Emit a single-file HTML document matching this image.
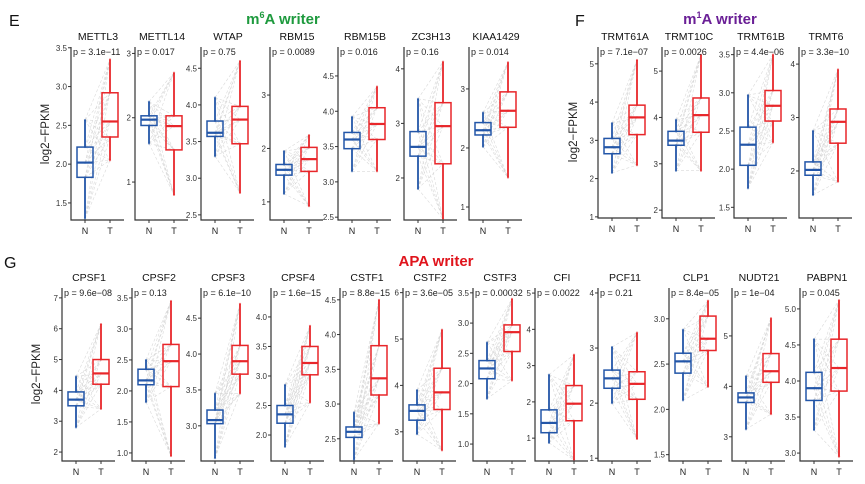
<!DOCTYPE html>
<html><head><meta charset="utf-8"><style>
html,body{margin:0;padding:0;background:#fff;}
svg{display:block;font-family:"Liberation Sans",Arial,sans-serif;}
</style></head><body>
<svg id="fig" width="865" height="484" viewBox="0 0 865 484">
<text x="9" y="26" font-size="16" fill="#111">E</text>
<text x="283" y="24" font-size="15" font-weight="bold" fill="#1e9a3e" text-anchor="middle">m<tspan font-size="9" dy="-6">6</tspan><tspan dy="6">A writer</tspan></text>
<text x="575" y="26" font-size="16" fill="#111">F</text>
<text x="720" y="24" font-size="15" font-weight="bold" fill="#6a1f96" text-anchor="middle">m<tspan font-size="9" dy="-6">1</tspan><tspan dy="6">A writer</tspan></text>
<text x="4" y="268" font-size="16" fill="#111">G</text>
<text x="436" y="266" font-size="15" font-weight="bold" fill="#e0141c" text-anchor="middle">APA writer</text>
<text transform="translate(49,134) rotate(-90)" font-size="11.5" fill="#222" text-anchor="middle">log2−FPKM</text>
<text transform="translate(577,132) rotate(-90)" font-size="11.5" fill="#222" text-anchor="middle">log2−FPKM</text>
<text transform="translate(40,374) rotate(-90)" font-size="11.5" fill="#222" text-anchor="middle">log2−FPKM</text>
</svg>
<script>
// Data per panel
const genes = ["METTL3","METTL14","WTAP","RBM15","RBM15B","ZC3H13","KIAA1429","TRMT61A","TRMT10C","TRMT61B","TRMT6",
 "CPSF1","CPSF2","CPSF3","CPSF4","CSTF1","CSTF2","CSTF3","CFI","PCF11","CLP1","NUDT21","PABPN1"];
const pvals = ["3.1e−11","0.017","0.75","0.0089","0.016","0.16","0.014","7.1e−07","0.0026","4.4e−06","3.3e−10",
 "9.6e−08","0.13","6.1e−10","1.6e−15","8.8e−15","3.6e−05","0.00032","0.0022","0.21","8.4e−05","1e−04","0.045"];
const yDomains = [[1.28,3.51],[0.41,3.1],[2.43,4.79],[0.66,3.9],[2.46,4.91],[1.23,4.4],[0.78,3.71],[0.97,5.44],[1.83,5.52],[1.36,3.6],[1.12,4.32],
 [1.71,7.32],[0.87,3.66],[2.51,4.92],[1.56,4.49],[2.18,4.67],[2.37,6.1],[0.72,3.58],[0.37,5.14],[0.95,4.09],[1.43,3.34],[2.52,5.95],[2.89,5.29]];
const tickLabels = [["1.5","2.0","2.5","3.0","3.5"],["1","2","3"],["2.5","3.0","3.5","4.0","4.5"],["1","2","3"],["2.5","3.0","3.5","4.0","4.5"],["2","3","4"],["1","2","3"],["1","2","3","4","5"],["2","3","4","5"],["1.5","2.0","2.5","3.0","3.5"],["2","3","4"],
 ["2","3","4","5","6","7"],["1.0","1.5","2.0","2.5","3.0","3.5"],["3.0","3.5","4.0","4.5"],["2.0","2.5","3.0","3.5","4.0"],["2.5","3.0","3.5","4.0","4.5"],["3","4","5","6"],["1.0","1.5","2.0","2.5","3.0","3.5"],["1","2","3","4","5"],["1","2","3","4"],["1.5","2.0","2.5","3.0"],["3","4","5"],["3.0","3.5","4.0","4.5","5.0"]];
// [lowWhisker, q1, median, q3, highWhisker]
const normalBox = [[1.3,1.83,2.02,2.22,2.57],[1.6,1.88,1.97,2.03,2.25],[3.3,3.57,3.62,3.78,4.1],[1.15,1.5,1.6,1.7,1.95],[3.15,3.47,3.6,3.7,3.92],[1.8,2.4,2.57,2.85,3.45],[2.02,2.22,2.3,2.43,2.6],[2.15,2.65,2.82,3.05,3.45],[2.85,3.4,3.5,3.7,3.95],[1.75,2.05,2.32,2.55,2.97],[1.55,1.92,2.02,2.17,2.75],
 [2.8,3.5,3.7,3.95,4.45],[1.82,2.1,2.17,2.35,2.5],[2.55,3.03,3.08,3.22,3.45],[1.8,2.2,2.35,2.5,2.85],[2.2,2.52,2.6,2.67,2.88],[2.95,3.25,3.45,3.58,3.9],[1.75,2.08,2.25,2.38,2.68],[0.87,1.15,1.42,1.78,2.75],[2.0,2.27,2.45,2.6,3.02],[2.1,2.4,2.53,2.62,2.88],[3.15,3.68,3.78,3.87,4.2],[3.32,3.73,3.9,4.12,4.58]];
const tumorBox = [[2.05,2.35,2.55,2.92,3.35],[0.8,1.5,1.87,2.03,2.7],[2.8,3.47,3.8,3.98,4.6],[0.92,1.57,1.8,2.02,2.25],[3.15,3.6,3.82,4.05,4.35],[1.25,2.26,2.95,3.38,4.13],[1.5,2.35,2.63,2.95,3.45],[2.35,3.15,3.6,3.92,5.1],[2.85,3.68,4.05,4.42,5.35],[2.35,2.63,2.83,3.03,3.5],[1.8,2.52,2.92,3.16,3.9],
 [3.4,4.2,4.55,5.0,6.15],[0.95,2.07,2.48,2.75,3.45],[3.45,3.72,3.9,4.12,4.7],[2.55,3.02,3.22,3.5,3.85],[2.72,3.13,3.37,3.84,4.5],[2.6,3.48,3.85,4.37,5.2],[2.05,2.53,2.85,2.97,3.4],[0.4,1.48,1.95,2.45,3.3],[1.35,2.07,2.35,2.57,3.28],[2.25,2.65,2.78,3.03,3.2],[3.45,4.08,4.3,4.65,5.35],[2.95,3.86,4.18,4.58,5.12]];

// Layout (positions, not data)
const axisX = [71,135,201,270,338,404,469,598,662,734,799, 62,132,201,271,340,403,473,535,598,669,732,800];
const rowOf = i => i<7 ? 0 : (i<11 ? 1 : 2);
const rowTop = [47,47,288], rowBot = [220,218,461];
const W = 53;
const NS = 'http://www.w3.org/2000/svg';
const svg = document.getElementById('fig');
function mk(tag, attrs, parent){ const e=document.createElementNS(NS,tag); for(const k in attrs) e.setAttribute(k,attrs[k]); (parent||svg).appendChild(e); return e; }

genes.forEach((g,i)=>{
  const r=rowOf(i), x0=axisX[i], top=rowTop[r], bot=rowBot[r];
  const [d0,d1]=yDomains[i];
  const y = v => bot - (v-d0)/(d1-d0)*(bot-top);
  const xN = x0+14, xT = x0+39;
  const grp = mk('g',{});
  
  
  const nb=normalBox[i], tb=tumorBox[i];
  // paired lines (gray) connecting every N summary value with every T summary value
  for(let a=0;a<5;a++){
    for(let b=0;b<5;b++){
      const ln = mk('line',{x1:xN,y1:y(nb[a]),x2:xT,y2:y(tb[b]),stroke:'#d0d0d0','stroke-width':0.6,'stroke-dasharray':'3,2',opacity:0.8},grp);
      
      
    }
  }
  // boxes
  [[nb,xN,'#2356a8','N'],[tb,xT,'#e8262a','T']].forEach(([b,cx,col,lab])=>{
    const bg = mk('g',{},grp);
    
    
    mk('line',{x1:cx,x2:cx,y1:y(b[0]),y2:y(b[1]),stroke:col,'stroke-width':1.8},bg);
    mk('line',{x1:cx,x2:cx,y1:y(b[3]),y2:y(b[4]),stroke:col,'stroke-width':1.8},bg);
    mk('rect',{x:cx-8,y:y(b[3]),width:16,height:Math.max(1,y(b[1])-y(b[3])),fill:'none',stroke:col,'stroke-width':1.5},bg);
    mk('line',{x1:cx-8,x2:cx+8,y1:y(b[2]),y2:y(b[2]),stroke:col,'stroke-width':2.2},bg);
    b.forEach(v=>mk('circle',{cx:cx,cy:y(v),r:1.1,fill:col,opacity:0.6},bg));
    const tl = mk('text',{x:cx,y:bot+14,'font-size':9,fill:'#222','text-anchor':'middle'},grp);
    tl.textContent = lab;
    
    
  });
  // axes
  const ax = mk('path',{d:`M${x0},${top} V${bot} H${x0+W}`,fill:'none',stroke:'#333','stroke-width':1.2},grp);
  
  
  mk('line',{x1:xN,x2:xN,y1:bot,y2:bot+3,stroke:'#333'},grp);
  mk('line',{x1:xT,x2:xT,y1:bot,y2:bot+3,stroke:'#333'},grp);
  tickLabels[i].forEach(t=>{
    const yy=y(parseFloat(t));
    mk('line',{x1:x0-3,x2:x0,y1:yy,y2:yy,stroke:'#333'},grp);
    const tt = mk('text',{x:x0-4,y:yy+3,'font-size':8,fill:'#333','text-anchor':'end'},grp);
    tt.textContent=t;
    
    
  });
  const ti = mk('text',{x:x0+27,y:top-7,'font-size':10.5,fill:'#111','text-anchor':'middle'},grp);
  ti.textContent=g;
  
  
  const pt = mk('text',{x:x0+2,y:top+8,'font-size':9,fill:'#222'},grp);
  pt.textContent='p = '+pvals[i];
  
  
});
</script>
</body></html>
